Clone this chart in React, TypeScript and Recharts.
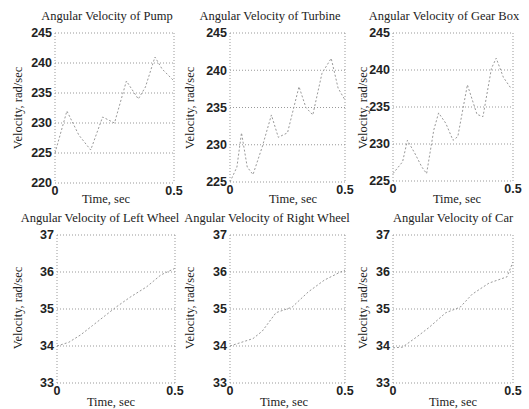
import React from "react";
import { LineChart, Line, XAxis, YAxis, CartesianGrid } from "recharts";

// ---- data ----
const pumpTime = [0, 0.05, 0.1, 0.15, 0.2, 0.25, 0.3, 0.35, 0.38, 0.42, 0.45, 0.5];
const pumpVel = [225, 232, 228, 225.5, 231, 230, 237, 234, 236, 241, 239, 237];

const turbineTime = [0, 0.03, 0.05, 0.075, 0.1, 0.14, 0.18, 0.21, 0.25, 0.3, 0.33, 0.36, 0.4, 0.44, 0.47, 0.5];
const turbineVel = [225, 227, 231.6, 227, 226, 229.7, 234, 231, 231.6, 237.8, 235, 234, 239.6, 241.6, 237.6, 236];

const gearTime = [0, 0.04, 0.06, 0.09, 0.12, 0.14, 0.17, 0.19, 0.22, 0.25, 0.27, 0.31, 0.35, 0.375, 0.41, 0.43, 0.46, 0.49];
const gearVel = [226, 227.6, 230.5, 228.8, 226.9, 226, 231.9, 234.2, 232.8, 230.5, 231, 238, 234, 233.7, 240.2, 241.6, 239, 237.6];

const leftTime = [0, 0.05, 0.1, 0.15, 0.2, 0.25, 0.31, 0.38, 0.44, 0.5];
const leftVel = [34, 34.1, 34.3, 34.55, 34.8, 35.05, 35.32, 35.6, 35.92, 36.1];

const rightTime = [0, 0.1, 0.14, 0.2, 0.27, 0.34, 0.41, 0.48, 0.5];
const rightVel = [34, 34.2, 34.4, 34.9, 35.05, 35.46, 35.78, 36, 36.05];

const carTime = [0, 0.04, 0.1, 0.15, 0.22, 0.28, 0.33, 0.4, 0.475, 0.5];
const carVel = [33.95, 33.97, 34.25, 34.5, 34.9, 35.05, 35.4, 35.7, 35.87, 36.27];

const topTicks1 = [220, 225, 230, 235, 240, 245];
const topTicks2 = [225, 230, 235, 240, 245];
const bottomTicks = [33, 34, 35, 36, 37];
const xTicks = [0, 0.5];

const titles = [
  "Angular Velocity of Pump",
  "Angular Velocity of Turbine",
  "Angular Velocity of Gear Box",
  "Angular Velocity of Left Wheel",
  "Angular Velocity of Right Wheel",
  "Angular Velocity of Car",
];
const xLabel = "Time, sec";
const yLabel = "Velocity, rad/sec";

function build(t: number[], v: number[]) {
  return t.map((x, i) => ({ t: x, v: v[i] }));
}

type Panel = {
  data: { t: number; v: number }[];
  ticks: number[];
  left: number;
  top: number;
  w: number;
  h: number;
  margin: { top: number; right: number; bottom: number; left: number };
  yw: number;
  title: string;
  titleX: number;
  titleY: number;
  xlX: number;
  xlY: number;
  ylX: number;
  ylY: number;
};

const panels: Panel[] = [
  { data: build(pumpTime, pumpVel), ticks: topTicks1, left: 0, top: 0, w: 190, h: 205, margin: { top: 33, right: 16, bottom: 2, left: 10 }, yw: 45, title: titles[0], titleX: 107, titleY: 16, xlX: 106, xlY: 199, ylX: 18, ylY: 108 },
  { data: build(turbineTime, turbineVel), ticks: topTicks2, left: 175, top: 0, w: 190, h: 205, margin: { top: 33, right: 20, bottom: 3, left: 10 }, yw: 45, title: titles[1], titleX: 270, titleY: 16, xlX: 293, xlY: 199, ylX: 190, ylY: 108 },
  { data: build(gearTime, gearVel), ticks: topTicks2, left: 350, top: 0, w: 179, h: 205, margin: { top: 33, right: 16, bottom: 4, left: 8 }, yw: 35, title: titles[2], titleX: 444, titleY: 16, xlX: 457, xlY: 199, ylX: 363, ylY: 108 },
  { data: build(leftTime, leftVel), ticks: bottomTicks, left: 0, top: 200, w: 190, h: 209, margin: { top: 35, right: 15, bottom: 6, left: 12 }, yw: 45, title: titles[3], titleX: 100, titleY: 218, xlX: 111, xlY: 402, ylX: 18, ylY: 308 },
  { data: build(rightTime, rightVel), ticks: bottomTicks, left: 175, top: 200, w: 190, h: 209, margin: { top: 35, right: 20, bottom: 6, left: 10 }, yw: 45, title: titles[4], titleX: 267, titleY: 218, xlX: 284, xlY: 402, ylX: 190, ylY: 308 },
  { data: build(carTime, carVel), ticks: bottomTicks, left: 350, top: 200, w: 179, h: 209, margin: { top: 35, right: 16, bottom: 6, left: 8 }, yw: 35, title: titles[5], titleX: 453, titleY: 218, xlX: 453, xlY: 402, ylX: 363, ylY: 308 },
];

const serif = "'Liberation Serif', 'DejaVu Serif', serif";
const sans = "'Liberation Sans', Arial, sans-serif";

const textStyle: React.CSSProperties = {
  position: "absolute",
  fontFamily: serif,
  fontSize: 12.5,
  color: "#222",
  whiteSpace: "nowrap",
  lineHeight: "14px",
};

export default function App() {
  return (
    <div style={{ position: "absolute", left: 0, top: 0, width: 529, height: 409, background: "#fff", overflow: "hidden" }}>
      {panels.map((p, i) => (
        <div key={i} style={{ position: "absolute", left: p.left, top: p.top }}>
          <LineChart width={p.w} height={p.h} data={p.data} margin={p.margin}>
            <CartesianGrid stroke="#999" strokeDasharray="1 2" horizontal vertical />
            <XAxis
              dataKey="t"
              type="number"
              domain={[0, 0.5]}
              ticks={xTicks}
              tickFormatter={(x: number) => (x === 0 ? "0" : String(x))}
              axisLine={false}
              tickLine={false}
              tickSize={0}
              tickMargin={3}
              height={20}
              interval={0}
              tick={{ fontFamily: sans, fontSize: 12.5, fontWeight: 700, fill: "#222" }}
            />
            <YAxis
              type="number"
              domain={[p.ticks[0], p.ticks[p.ticks.length - 1]]}
              ticks={p.ticks}
              axisLine={false}
              tickLine={false}
              tickSize={0}
              tickMargin={3}
              width={p.yw}
              interval={0}
              tick={{ fontFamily: sans, fontSize: 12.5, fontWeight: 700, fill: "#222" }}
            />
            <Line
              dataKey="v"
              type="linear"
              stroke="#999"
              strokeWidth={1}
              strokeDasharray="2 2"
              dot={false}
              isAnimationActive={false}
            />
          </LineChart>
        </div>
      ))}
      {panels.map((p, i) => (
        <React.Fragment key={"t" + i}>
          <div style={{ ...textStyle, left: p.titleX, top: p.titleY, transform: "translate(-50%, -50%)" }}>{p.title}</div>
          <div style={{ ...textStyle, left: p.xlX, top: p.xlY, transform: "translate(-50%, -50%)" }}>{xLabel}</div>
          <div style={{ ...textStyle, left: p.ylX, top: p.ylY, transform: "translate(-50%, -50%) rotate(-90deg)" }}>{yLabel}</div>
        </React.Fragment>
      ))}
    </div>
  );
}
